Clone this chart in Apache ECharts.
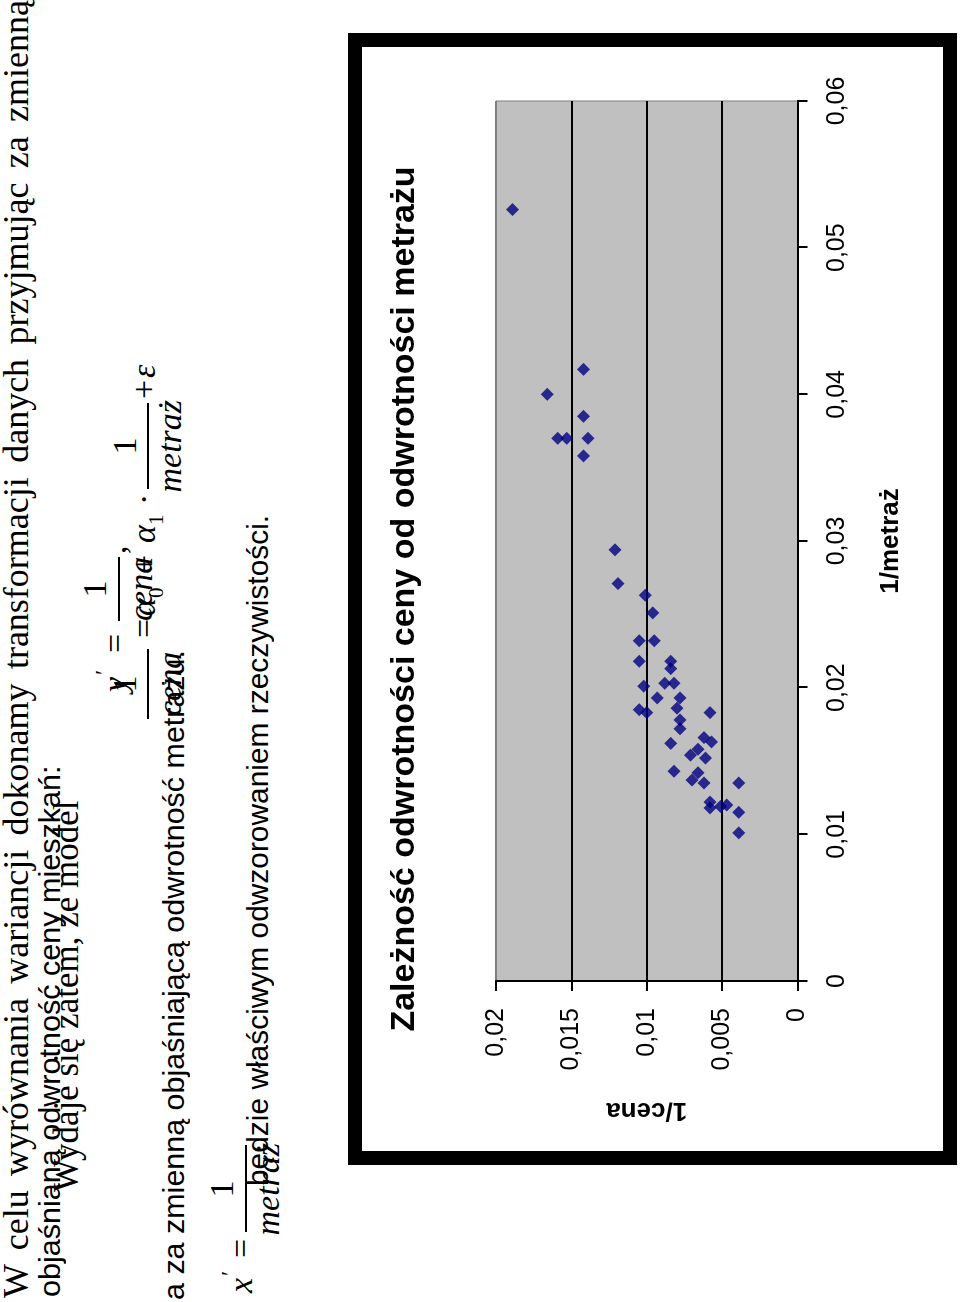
<!DOCTYPE html>
<html><head><meta charset="utf-8">
<script src="https://cdn.jsdelivr.net/npm/echarts/dist/echarts.min.js"></script>
<style>
html,body{margin:0;padding:0;background:#fff;width:960px;height:1302px;overflow:hidden}
#page{position:absolute;left:0;top:0;width:1302px;height:960px;transform-origin:0 0;transform:translateY(1302px) rotate(-90deg);background:#fff}
.t{position:absolute;white-space:nowrap;line-height:1;color:#000;transform-origin:0 50%}
.serif{font-family:"Liberation Serif","Times New Roman",serif}
.sans{font-family:"Liberation Sans",Arial,sans-serif}
.bar{position:absolute;background:#000;height:1.8px}
#frame{position:absolute;left:137px;top:348px;width:1104px;height:581px;border:14px solid #000;background:#fff}
#chart{width:1104px;height:581px}
</style></head>
<body><div id="page"><div id="frame"><div id="chart"></div></div></div>
<script>
// ---- chart data ----
const TITLE = 'Zależność odwrotności ceny od odwrotności metrażu';
const X_NAME = '1/metraż';
const Y_NAME = '1/cena';
const xTickLabels = ['0', '0,01', '0,02', '0,03', '0,04', '0,05', '0,06'];
const yTickLabels = ['0', '0,005', '0,01', '0,015', '0,02'];
const invMetraz = [0.0526, 0.0417, 0.0400, 0.0385, 0.0370, 0.0370, 0.0370, 0.0358,
  0.0294, 0.0271, 0.0263, 0.0251, 0.0232, 0.0232, 0.0218, 0.0218, 0.0213, 0.0203, 0.0203,
  0.0201, 0.0193, 0.0193, 0.0186, 0.0185, 0.0183, 0.0178, 0.0183, 0.0172, 0.0162, 0.0166,
  0.0163, 0.0154, 0.0158, 0.0152, 0.0143, 0.0142, 0.0137, 0.0135, 0.0135, 0.0122, 0.0118,
  0.0119, 0.0120, 0.0115, 0.0101];
const invCena = [0.0189, 0.0142, 0.0166, 0.0142, 0.0159, 0.0153, 0.0139, 0.0142,
  0.0121, 0.0119, 0.0101, 0.0096, 0.0105, 0.0095, 0.0105, 0.0084, 0.0084, 0.0088, 0.0082,
  0.0102, 0.0093, 0.0078, 0.0080, 0.0105, 0.0100, 0.0078, 0.0058, 0.0078, 0.0084, 0.0062,
  0.0057, 0.0071, 0.0066, 0.0061, 0.0082, 0.0066, 0.0070, 0.0062, 0.0039, 0.0058, 0.0058,
  0.0051, 0.0047, 0.0039, 0.0039];

// ---- page text (rotated document) ----
const page = document.getElementById('page');
function put(txt, u, vb, size, cls, opts) {
  opts = opts || {};
  const s = document.createElement('span');
  s.className = 't ' + cls;
  s.textContent = txt;
  s.style.fontSize = size + 'px';
  s.style.left = u + 'px';
  s.style.top = (vb - 0.84 * size) + 'px';
  if (opts.italic) s.style.fontStyle = 'italic';
  page.appendChild(s);
  const w = s.offsetWidth;
  if (opts.len) s.style.transform = 'scaleX(' + (opts.len / w) + ')';
  if (opts.center) s.style.left = (u - w / 2) + 'px';
  return s;
}
function bar(u1, u2, v) {
  const d = document.createElement('div');
  d.className = 'bar';
  d.style.left = u1 + 'px'; d.style.width = (u2 - u1) + 'px'; d.style.top = (v - 0.9) + 'px';
  page.appendChild(d);
}
// line 1 justified
(function () {
  const d = document.createElement('div');
  d.className = 't serif';
  d.style.whiteSpace = 'normal';
  d.style.left = '4px'; d.style.width = '1298px';
  d.style.fontSize = '36px'; d.style.top = (28 - 0.84 * 36) + 'px';
  d.style.textAlign = 'justify'; d.style.textAlignLast = 'justify';
  d.textContent = 'W celu wyrównania wariancji dokonamy transformacji danych przyjmując za zmienną';
  page.appendChild(d);
})();
put('objaśnianą odwrotność ceny mieszkań:', 5, 60, 29, 'sans', { len: 532 });
put('Wydaje się zatem, że model', 110, 78, 35, 'serif');
put('a za zmienną objaśniającą odwrotność metrażu.', 2, 184, 29, 'sans', { len: 650 });
put('będzie właściwym odwzorowaniem rzeczywistości.', 116, 268, 29, 'sans', { len: 671 });

const FS = 34;
// formula A: y' = 1/cena ,
put('y', 610, 127, FS, 'serif', { italic: true });
put('′', 627, 111, 24, 'serif');
put('=', 649, 127, FS, 'serif');
put('1', 713, 107, FS, 'serif', { center: true });
bar(681, 745, 119);
put('cena', 713, 153, FS, 'serif', { italic: true, center: true });
put(',', 748, 127, FS, 'serif');

// formula B: 1/cena = a0 + a1 * 1/metraz + e
put('1', 618, 137, FS, 'serif', { center: true });
bar(583, 653, 148);
put('cena', 618, 182, FS, 'serif', { italic: true, center: true });
put('=', 664, 156, FS, 'serif');
put('α', 686, 156, FS, 'serif', { italic: true });
put('0', 704, 164, 21, 'serif');
put('+', 728, 156, FS, 'serif');
put('α', 759, 156, FS, 'serif', { italic: true });
put('1', 777, 164, 21, 'serif');
put('·', 797, 156, FS, 'serif');
bar(813, 899, 148);
put('1', 856, 137, FS, 'serif', { center: true });
put('metraż', 856, 182, FS, 'serif', { italic: true, center: true });
put('+', 903, 156, FS, 'serif');
put('ε', 924, 156, FS, 'serif', { italic: true });

// formula C: x' = 1/metraz
put('x', 9, 253, FS, 'serif', { italic: true });
put('′', 26, 237, 24, 'serif');
put('=', 44, 253, FS, 'serif');
put('1', 113, 234, FS, 'serif', { center: true });
bar(70, 157, 246);
put('metraż', 113, 280, FS, 'serif', { italic: true, center: true });

// ---- chart ----
const chart = echarts.init(document.getElementById('chart'), null, { renderer: 'canvas' });
const FONT = '"Liberation Sans", Arial, sans-serif';
const points = invMetraz.map((m, i) => [m, invCena[i]]);
chart.setOption({
  animation: false,
  title: {
    text: TITLE, left: 'center', top: 21,
    textStyle: { fontFamily: FONT, fontWeight: 'bold', fontSize: 34, color: '#000' }
  },
  grid: { left: 170, right: 54, top: 134, bottom: 145.5, show: true, backgroundColor: '#c0c0c0', borderColor: '#808080', borderWidth: 1 },
  xAxis: {
    type: 'value', min: 0, max: 0.06, interval: 0.01,
    name: X_NAME, nameLocation: 'middle', nameGap: 80,
    nameTextStyle: { fontFamily: FONT, fontWeight: 'bold', fontSize: 26, color: '#000' },
    axisLine: { onZero: false, lineStyle: { color: '#000', width: 2 } },
    axisTick: { show: true, length: 10, lineStyle: { color: '#000', width: 2 } },
    axisLabel: { margin: 27, fontFamily: FONT, fontSize: 25, color: '#000',
      formatter: v => xTickLabels[Math.round(v / 0.01)] },
    splitLine: { show: false }
  },
  yAxis: {
    type: 'value', min: 0, max: 0.02, interval: 0.005,
    name: Y_NAME, nameLocation: 'middle', nameGap: 116,
    nameTextStyle: { fontFamily: FONT, fontWeight: 'bold', fontSize: 26, color: '#000' },
    axisLine: { show: true, onZero: false, lineStyle: { color: '#000', width: 2 } },
    axisTick: { show: true, length: 10, lineStyle: { color: '#000', width: 2 } },
    axisLabel: { margin: 27, fontFamily: FONT, fontSize: 25, color: '#000',
      formatter: v => yTickLabels[Math.round(v / 0.005)] },
    splitLine: { show: true, lineStyle: { color: ['#000', '#000', '#000', '#000', '#808080'], width: 2 } }
  },
  series: [{
    type: 'scatter', data: points, symbol: 'diamond', symbolSize: 13,
    itemStyle: { color: '#000080' }
  }]
});
</script>
</body></html>
